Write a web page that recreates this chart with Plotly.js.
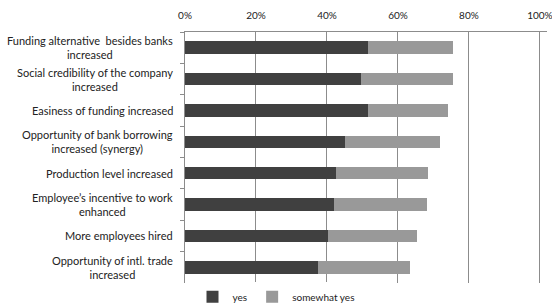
<!DOCTYPE html>
<html>
<head>
<meta charset="utf-8">
<script src="https://cdn.plot.ly/plotly-3.0.1.min.js"></script>
<style>html,body{margin:0;padding:0;background:#fff;}#chart{width:552px;height:303px;}</style>
</head>
<body>
<div id="chart"></div>
<script>
const categories = [
  "Funding alternative  besides banks<br>increased",
  "Social credibility of the company<br>increased",
  "Easiness of funding increased",
  "Opportunity of bank borrowing<br>increased (synergy)",
  "Production level increased",
  "Employee\u2019s incentive to work<br>enhanced",
  "More employees hired",
  "Opportunity of intl. trade<br>increased"
];
const yesValues = [0.516, 0.496, 0.516, 0.451, 0.426, 0.421, 0.403, 0.374];
const somewhatYesValues = [0.238, 0.258, 0.225, 0.268, 0.260, 0.262, 0.252, 0.259];
const seriesNames = ["yes", "somewhat yes"];
const xTickVals = [0, 0.2, 0.4, 0.6, 0.8, 1.0];
const xTickText = ["0%", "20%", "40%", "60%", "80%", "100%"];

const FONT = "Lato, 'Open Sans', sans-serif";

const traces = [
  {type: "bar", orientation: "h", name: seriesNames[0], y: categories, x: yesValues,
   marker: {color: "#404040"}, hoverinfo: "x"},
  {type: "bar", orientation: "h", name: seriesNames[1], y: categories, x: somewhatYesValues,
   marker: {color: "#999999"}, hoverinfo: "x"}
];

const annotations = categories.map(c => ({
  xref: "paper", yref: "y", x: 0, y: c, xanchor: "right", xshift: -10,
  text: c, showarrow: false, align: "center",
  font: {family: FONT, size: 11, color: "#222"}
}));

const layout = {
  width: 552, height: 303,
  margin: {l: 185, r: 5, t: 32, b: 20, autoexpand: false},
  paper_bgcolor: "#fff", plot_bgcolor: "#fff",
  barmode: "stack", bargap: 0.6,
  showlegend: true,
  legend: {orientation: "h", traceorder: "normal", xref: "container", yref: "container",
           x: 0.5, xanchor: "center", y: 0.021, yanchor: "middle",
           font: {family: FONT, size: 10, color: "#222"},
           itemwidth: 30, tracegroupgap: 0},
  xaxis: {side: "top", range: [0, 1.02], tickvals: xTickVals, ticktext: xTickText,
          showgrid: true, gridcolor: "#8c8c8c", gridwidth: 1, zeroline: false,
          showline: true, linecolor: "#8c8c8c", linewidth: 1, ticks: "",
          ticklabelstandoff: 8, tickangle: 0, ticklabeloverflow: "allow",
          tickfont: {family: FONT, size: 10, color: "#222"}, fixedrange: true, automargin: false},
  yaxis: {autorange: "reversed", showticklabels: false, showline: true, linecolor: "#8c8c8c",
          linewidth: 1, ticks: "outside", tickson: "boundaries", ticklen: 4, tickcolor: "#8c8c8c",
          showgrid: false, zeroline: false, fixedrange: true, automargin: false},
  annotations: annotations
};

Plotly.newPlot("chart", traces, layout, {displayModeBar: false, staticPlot: true});
</script>
</body>
</html>
